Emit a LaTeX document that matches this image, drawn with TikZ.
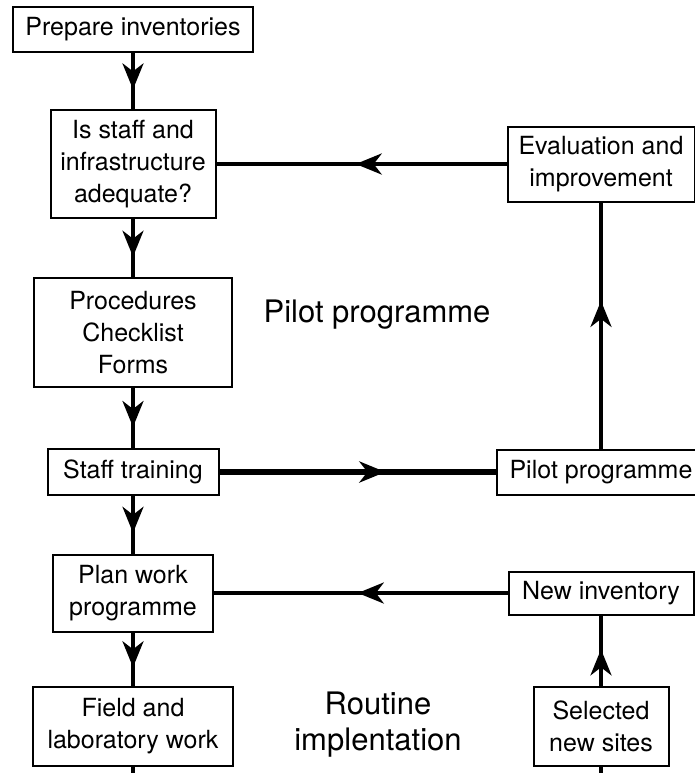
\documentclass[tikz,border=0pt]{standalone}
\usepackage{fontspec}
\setmainfont{TeX Gyre Heros}
\usetikzlibrary{arrows.meta, positioning, decorations.markings}

\begin{document}
\begin{tikzpicture}[x=0.5pt, y=-0.5pt,
	box/.style={draw, line width=1pt, align=center, inner sep=2pt,
		font=\fontsize{12.5}{16}\selectfont},
	flow/.style={line width=1.9pt},
	midarrow/.style={postaction={decorate}, decoration={markings,
			mark=at position #1 with {\arrow{Stealth[length=13pt, width=10.5pt, inset=4pt]}}}},
	midarrow/.default=0.6,
	title/.style={align=center, font=\fontsize{15.5}{18}\selectfont}]
	\clip (0,0) rectangle (695,773);
	% left column
	\node[box, minimum width=120pt, minimum height=22.5pt] (prep) at (133,29.5) {Prepare inventories};
	\node[box, minimum width=82.5pt, minimum height=54pt] (adequate) at (133,164)
	{Is staff and\\infrastructure\\adequate?};
	\node[box, minimum width=99pt, minimum height=54.5pt] (forms) at (133,332.5)
	{Procedures\\Checklist\\Forms};
	\node[box, minimum width=85.5pt, minimum height=23pt] (training) at (133,472) {Staff training};
	\node[box, minimum width=80pt, minimum height=38.5pt] (planwork) at (133,593)
	{Plan work\\programme};
	\node[box, minimum width=100pt, minimum height=39.5pt] (fieldwork) at (133,726.5)
	{Field and\\laboratory work};
	% right column
	\node[box, minimum width=93.5pt, minimum height=37.5pt] (evaluate) at (601,164)
	{Evaluation and\\improvement};
	\node[box, minimum width=104pt, minimum height=22.5pt] (pilot) at (601,472) {Pilot programme};
	\node[box, minimum width=92.5pt, minimum height=21.5pt] (newinv) at (601,593) {New inventory};
	\node[box, minimum width=67.5pt, minimum height=39.5pt] (sites) at (601,726.5)
	{Selected\\new sites};
	% phase labels
	\node[title] (pilotlabel) at (377,315) {Pilot programme};
	\node[title] (routinelabel) at (378,725) {Routine\\implentation};
	% loose ends at the bottom edge
	\coordinate (fieldend) at (133,773);
	\coordinate (sitesend) at (601,773);
	% main sequence
	\draw[flow, midarrow=0.65] (prep) -- (adequate);
	\draw[flow, midarrow=0.65] (adequate) -- (forms);
	\draw[flow, midarrow=0.65] (forms) -- (training);
	\draw[flow, midarrow=0.64] (training) -- (planwork);
	\draw[flow, midarrow=0.65] (planwork) -- (fieldwork);
	\draw[flow] (fieldwork) -- (fieldend);
	% pilot loop
	\draw[flow, line width=2.8pt, midarrow=0.6] (training) -- (pilot);
	\draw[flow, midarrow=0.6] (pilot) -- (evaluate);
	\draw[flow, midarrow=0.52] (evaluate) -- (adequate);
	% routine loop
	\draw[flow] (sitesend) -- (sites);
	\draw[flow, midarrow=0.52] (sites) -- (newinv);
	\draw[flow, midarrow=0.51] (newinv) -- (planwork);
\end{tikzpicture}
\end{document}
